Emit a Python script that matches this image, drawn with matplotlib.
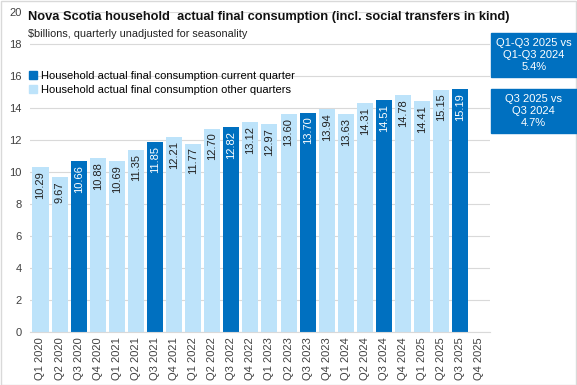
import numpy as np
import matplotlib
matplotlib.use('Agg')
import matplotlib.pyplot as plt
from matplotlib.patches import Rectangle

quarters = ["Q1 2020", "Q2 2020", "Q3 2020", "Q4 2020",
            "Q1 2021", "Q2 2021", "Q3 2021", "Q4 2021",
            "Q1 2022", "Q2 2022", "Q3 2022", "Q4 2022",
            "Q1 2023", "Q2 2023", "Q3 2023", "Q4 2023",
            "Q1 2024", "Q2 2024", "Q3 2024", "Q4 2024",
            "Q1 2025", "Q2 2025", "Q3 2025", "Q4 2025"]
values = [10.29, 9.67, 10.66, 10.88, 10.69, 11.35, 11.85, 12.21,
          11.77, 12.70, 12.82, 13.12, 12.97, 13.60, 13.70, 13.94,
          13.63, 14.31, 14.51, 14.78, 14.41, 15.15, 15.19]
current = [q.startswith("Q3") for q in quarters[:len(values)]]

dark = "#0070C0"
light = "#BDE3FA"

plt.rcParams['font.family'] = ['Liberation Sans', 'DejaVu Sans']

fig = plt.figure(figsize=(5.77, 3.85), dpi=100)
ax = fig.add_axes([0.052, 0.138, 0.797, 0.831])

x = np.arange(len(values))
cols = [dark if c else light for c in current]
ax.bar(x, values, width=0.84, color=cols, zorder=2)

for xi, v, c in zip(x, values, current):
    ax.text(xi, v - 0.25, "%.2f" % v, rotation=90, ha='center', va='top',
            fontsize=8, color='white' if c else '#222222', zorder=3)

ax.set_xlim(-0.55, len(quarters) - 0.45)
ax.set_ylim(0, 20)
ax.set_yticks(range(0, 21, 2))
ax.set_xticks(range(len(quarters)))
ax.set_xticklabels(quarters, rotation=90, fontsize=8, color='#404040')
ax.tick_params(axis='y', labelsize=8, labelcolor='#404040', length=0, pad=6)
ax.tick_params(axis='x', length=0, pad=4)
ax.grid(axis='y', color='#D9D9D9', lw=0.8, zorder=0)
for s in ['top', 'right', 'left']:
    ax.spines[s].set_visible(False)
ax.spines['bottom'].set_color('#D9D9D9')

# title and subtitle
fig.text(0.049, 0.955, "Nova Scotia household  actual final consumption (incl. social transfers in kind)",
         fontsize=9.3, fontweight='bold', va='center', color='#111111')
fig.text(0.049, 0.912, "$billions, quarterly unadjusted for seasonality",
         fontsize=7.8, va='center', color='#222222')

# legend
ax.legend(handles=[Rectangle((0, 0), 1, 1, color=dark), Rectangle((0, 0), 1, 1, color=light)],
          labels=["Household actual final consumption current quarter",
                  "Household actual final consumption other quarters"],
          loc='upper left', bbox_to_anchor=(-0.012, 0.83), frameon=False,
          fontsize=8, handlelength=0.7, handleheight=0.7, handletextpad=0.4,
          labelspacing=0.35, borderaxespad=0)

# callout boxes
fig.patches.append(Rectangle((0.851, 0.800), 0.149, 0.115, transform=fig.transFigure,
                             color=dark, zorder=5))
fig.text(0.925, 0.857, "Q1-Q3 2025 vs\nQ1-Q3 2024\n5.4%", color='white', fontsize=8,
         ha='center', va='center', linespacing=1.25, zorder=6)
fig.patches.append(Rectangle((0.851, 0.655), 0.149, 0.115, transform=fig.transFigure,
                             color=dark, zorder=5))
fig.text(0.925, 0.712, "Q3 2025 vs\nQ3 2024\n4.7%", color='white', fontsize=8,
         ha='center', va='center', linespacing=1.25, zorder=6)

# outer border
fig.patches.append(Rectangle((0.001, 0.001), 0.997, 0.997, transform=fig.transFigure,
                             fill=False, edgecolor='#D9D9D9', lw=1))

fig.savefig("out.png", dpi=100)
